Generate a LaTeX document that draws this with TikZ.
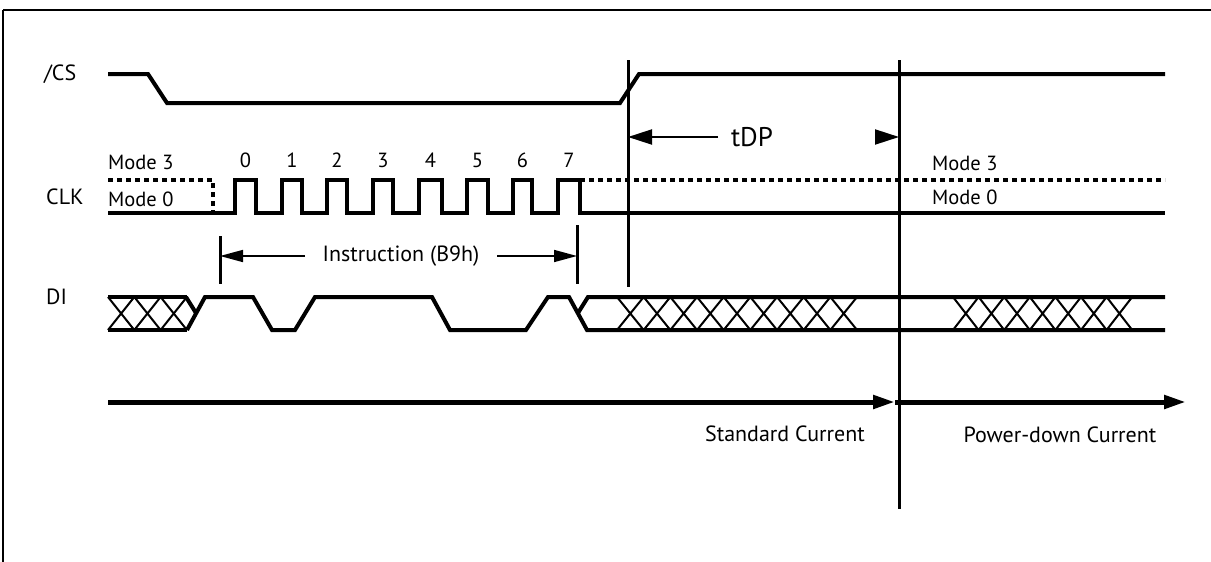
\documentclass[tikz,border=0pt]{standalone}
\usepackage{fontspec}
\setmainfont{PT Sans}
\usetikzlibrary{arrows.meta}
\begin{document}
\begin{tikzpicture}[x=1pt,y=-1pt,
  sig/.style={line width=4pt, line join=miter, line cap=butt},
  dotline/.style={line width=4pt, dash pattern=on 5pt off 4pt},
  xline/.style={line width=2pt},
  vline/.style={line width=3pt},
  lbl/.style={inner sep=0pt, font=\fontsize{22}{26}\selectfont},
  small/.style={inner sep=0pt, font=\fontsize{20.5}{24}\selectfont},
  big/.style={inner sep=0pt, font=\fontsize{27}{31}\selectfont},
  arr/.style={line width=1.6pt, -{Triangle[length=23pt,width=12pt]}},
  tarr/.style={line width=2pt, -{Triangle[length=24pt,width=15pt]}},
  axisarr/.style={line width=5pt, -{Triangle[length=22pt,width=13pt]}}]
\useasboundingbox (0,0) rectangle (1211,562);
% frame
\draw[line width=2.5pt] (1211,10) -- (3,10);
\draw[line width=1.2pt] (3,10) -- (3,562);
% signal labels
\node[lbl, anchor=west] (cs) at (44,74) {/CS};
\node[lbl, anchor=west] (clk) at (46,197) {CLK};
\node[lbl, anchor=west] (di) at (46,297) {DI};
% /CS
\draw[sig] (108,74) -- (148,74) -- (167,103) -- (620,103) -- (639,74) -- (1165,74);
% vertical markers
\coordinate (v1t) at (628,60); \coordinate (v1b) at (628,287);
\coordinate (v2t) at (899,60); \coordinate (v2b) at (899,509);
\draw[vline] (v1t) -- (v1b);
\draw[vline] (v2t) -- (v2b);
% tDP
\node[big] (tdp) at (752,137) {tDP};
\coordinate (tdpL) at (628,137); \coordinate (tdpR) at (899,137);
\draw[tarr] (718,137) -- (tdpL);
\draw[tarr] (875,137) -- (tdpR);
% CLK
\node[small, anchor=west] (m3) at (108,162) {Mode 3};
\node[small, anchor=west] (m0) at (108,199) {Mode 0};
\node[small, anchor=west] (m3r) at (932,163) {Mode 3};
\node[small, anchor=west] (m0r) at (932,197) {Mode 0};
\draw[dotline] (108,180) -- (213,180) -- (213,213);
\draw[dotline] (580,180) -- (1165,180);
\draw[sig] (108,213) -- (235,213) -- (235,180) -- (256,180) -- (256,213)
  -- (282,213) -- (282,180) -- (302,180) -- (302,213)
  -- (327,213) -- (327,180) -- (347,180) -- (347,213)
  -- (373,213) -- (373,180) -- (393,180) -- (393,213)
  -- (419,213) -- (419,180) -- (442,180) -- (442,213)
  -- (467,213) -- (467,180) -- (488,180) -- (488,213)
  -- (513,213) -- (513,180) -- (532,180) -- (532,213)
  -- (558,213) -- (558,180) -- (580,180) -- (580,213) -- (1165,213);
\foreach \n/\x in {0/245.5,1/292,2/337,3/383,4/430.5,5/477.5,6/522.5,7/569}
  \node[small] (d\n) at (\x,160) {\n};
% Instruction
\coordinate (i1t) at (220,236); \coordinate (i1b) at (220,284);
\coordinate (i2t) at (577,225); \coordinate (i2b) at (577,284);
\draw[vline] (i1t) -- (i1b);
\draw[vline] (i2t) -- (i2b);
\node[lbl] (ins) at (401,256) {Instruction (B9h)};
\coordinate (insL) at (220,256); \coordinate (insR) at (577,256);
\draw[arr] (305,256) -- (insL);
\draw[arr] (497,256) -- (insR);
% DI
\draw[sig] (108,297) -- (187,297);
\draw[sig] (108,330) -- (187,330);
\foreach \i in {0,1,2} {
  \pgfmathsetmacro\a{108+\i*26.3}
  \draw[xline] (\a,297) -- (\a+26.3,330) (\a,330) -- (\a+26.3,297);
}
\draw[sig] (186,297) -- (196,313);
\draw[sig] (187,330) -- (205,297) -- (253,297) -- (272,330) -- (295,330) -- (315,297)
  -- (432,297) -- (450,330) -- (526,330) -- (548,297) -- (569,297) -- (587,330) -- (1165,330);
\draw[sig] (578,313) -- (588,297) -- (1165,297);
\foreach \i in {0,...,8} {
  \pgfmathsetmacro\a{617+\i*26.67}
  \draw[xline] (\a,297) -- (\a+26.67,330) (\a,330) -- (\a+26.67,297);
}
\foreach \i in {0,...,6} {
  \pgfmathsetmacro\a{953+\i*25.6}
  \draw[xline] (\a,297) -- (\a+25.6,330) (\a,330) -- (\a+25.6,297);
}
% current axis
\coordinate (ax0) at (108,402); \coordinate (axm) at (895,402); \coordinate (ax1) at (1186,402);
\draw[axisarr] (ax0) -- (axm);
\draw[axisarr] (axm) -- (ax1);
\node[lbl] (std) at (785,434) {Standard Current};
\node[lbl] (pwd) at (1060,435) {Power-down Current};
\end{tikzpicture}
\end{document}
